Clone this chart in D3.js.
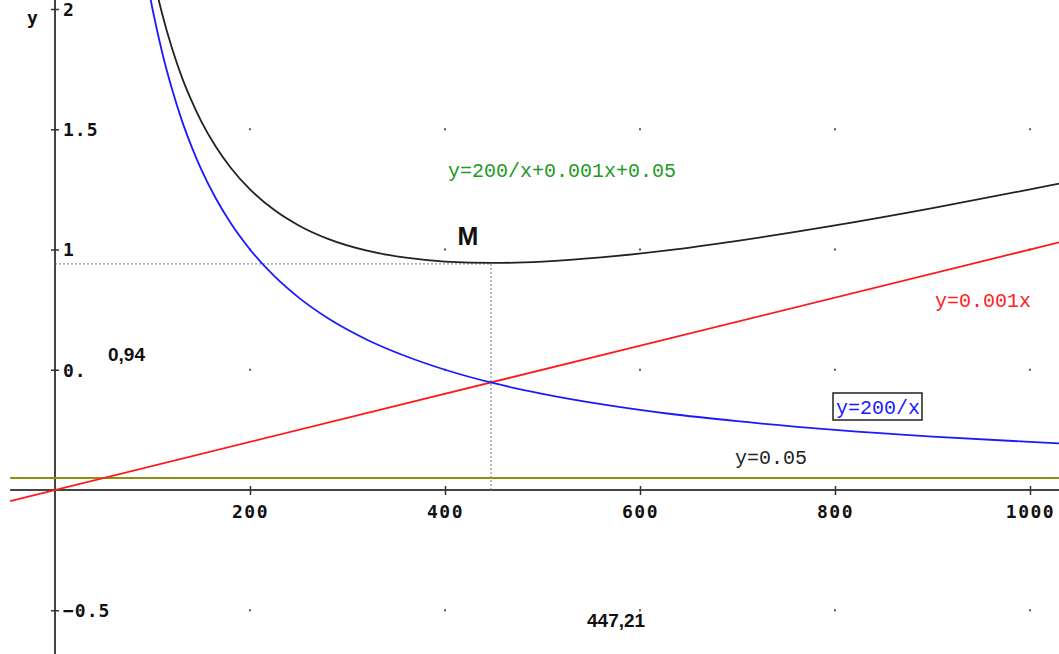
<!DOCTYPE html>
<html>
<head>
<meta charset="utf-8">
<script src="https://cdn.jsdelivr.net/npm/d3@7/dist/d3.min.js"></script>
<style>
  html, body { margin: 0; padding: 0; background: #fff; }
  svg { display: block; }
</style>
</head>
<body>
<svg id="chart" width="1059" height="654"></svg>
<script>
// ---- data ----
const xTicks = [200, 400, 600, 800, 1000];
const yTicks = [2, 1.5, 1, 0.5, -0.5];
const yTickLabels = ["2", "1.5", "1", "0.", "\u22120.5"];
const gridX = [200, 400, 600, 800, 1000];
const gridY = [1.5, 1, 0.5, -0.5];

// y = 200/x
const hypX = [98, 100, 110, 120, 130, 140, 150, 165, 180, 200, 225, 250, 280, 320, 360, 400, 450, 500, 560, 630, 700, 800, 900, 1000, 1030];
const hypY = [2.041, 2.0, 1.818, 1.667, 1.538, 1.429, 1.333, 1.212, 1.111, 1.0, 0.889, 0.8, 0.714, 0.625, 0.556, 0.5, 0.444, 0.4, 0.357, 0.317, 0.286, 0.25, 0.222, 0.2, 0.194];

// y = 200/x + 0.001x + 0.05
const sumX = [106, 110, 120, 130, 140, 150, 165, 180, 200, 225, 250, 280, 320, 360, 400, 450, 500, 560, 630, 700, 800, 900, 1000, 1030];
const sumY = [2.043, 1.978, 1.837, 1.718, 1.619, 1.533, 1.427, 1.341, 1.25, 1.164, 1.1, 1.044, 0.995, 0.966, 0.95, 0.944, 0.95, 0.967, 0.997, 1.036, 1.1, 1.172, 1.25, 1.274];

// y = 0.001x
const linX = [-46, 1030];
const linY = [-0.046, 1.03];

// y = 0.05
const constX = [-46, 1030];
const constY = [0.05, 0.05];

// minimum point M
const mX = 447.21;
const mY = 0.94;
const mXLabel = "447,21";
const mYLabel = "0,94";

// ---- scales ----
const svg = d3.select("#chart");
const x = d3.scaleLinear().domain([0, 1000]).range([55, 1030]);
const y = d3.scaleLinear().domain([0, 2]).range([490, 9]);

const mono = "'DejaVu Sans Mono', monospace";
const monoThin = "'Liberation Mono', 'DejaVu Sans Mono', monospace";
const sans = "'Liberation Sans', Arial, sans-serif";

// grid dots
const dots = [];
gridX.forEach(gx => gridY.forEach(gy => dots.push([gx, gy])));
svg.append("g").selectAll("rect").data(dots).join("rect")
  .attr("x", d => x(d[0]) - 1)
  .attr("y", d => y(d[1]) - 1)
  .attr("width", 2).attr("height", 2)
  .attr("fill", "#555");

// axes lines
svg.append("line")
  .attr("x1", x(-46)).attr("x2", x(1030))
  .attr("y1", y(0)).attr("y2", y(0))
  .attr("stroke", "#444").attr("stroke-width", 2);
svg.append("line")
  .attr("x1", x(0)).attr("x2", x(0))
  .attr("y1", y(2.05)).attr("y2", y(-0.7))
  .attr("stroke", "#444").attr("stroke-width", 2);

// x axis ticks & labels
const xAxis = svg.append("g")
  .attr("transform", `translate(0,${y(0)})`)
  .call(d3.axisBottom(x).tickValues(xTicks).tickSize(5).tickFormat(d3.format("d")));
xAxis.select(".domain").remove();
xAxis.selectAll(".tick line").attr("y1", -4).attr("y2", 5).attr("stroke", "#333").attr("stroke-width", 1.5);
xAxis.selectAll(".tick text")
  .attr("y", 15).attr("dy", "0.71em")
  .attr("fill", "#111")
  .style("font-family", mono).style("font-weight", "bold")
  .style("font-size", "18px").style("letter-spacing", "1.5px");

// y axis ticks & labels
const yAxis = svg.append("g")
  .attr("transform", `translate(${x(0)},0)`)
  .call(d3.axisRight(y).tickValues(yTicks).tickSize(4).tickFormat((d, i) => yTickLabels[i]));
yAxis.select(".domain").remove();
yAxis.selectAll(".tick line").attr("x1", -4).attr("x2", 4).attr("stroke", "#333").attr("stroke-width", 1.5);
yAxis.selectAll(".tick text")
  .attr("x", 8).attr("dy", "0.36em")
  .attr("fill", "#111")
  .style("font-family", mono).style("font-weight", "bold")
  .style("font-size", "18px").style("letter-spacing", "1px");

// axis title
svg.append("text").attr("x", 27).attr("y", 24)
  .attr("fill", "#111")
  .style("font-family", mono).style("font-weight", "bold").style("font-size", "18px")
  .text("y");

// guide lines to M
svg.append("line")
  .attr("x1", x(0)).attr("x2", x(mX))
  .attr("y1", y(mY)).attr("y2", y(mY))
  .attr("stroke", "#777").attr("stroke-width", 1).attr("stroke-dasharray", "2,2");
svg.append("line")
  .attr("x1", x(mX)).attr("x2", x(mX))
  .attr("y1", y(mY)).attr("y2", y(0))
  .attr("stroke", "#777").attr("stroke-width", 1).attr("stroke-dasharray", "2,2");

// curves
const lineGen = d3.line().x(d => x(d[0])).y(d => y(d[1])).curve(d3.curveMonotoneX);
function series(xs, ys) { return xs.map((v, i) => [v, ys[i]]); }

svg.append("path").datum(series(constX, constY))
  .attr("d", lineGen).attr("fill", "none")
  .attr("stroke", "#8f8f12").attr("stroke-width", 2);
svg.append("path").datum(series(linX, linY))
  .attr("d", lineGen).attr("fill", "none")
  .attr("stroke", "#ff1a1a").attr("stroke-width", 1.8);
svg.append("path").datum(series(hypX, hypY))
  .attr("d", lineGen).attr("fill", "none")
  .attr("stroke", "#1a1aff").attr("stroke-width", 1.8);
svg.append("path").datum(series(sumX, sumY))
  .attr("d", lineGen).attr("fill", "none")
  .attr("stroke", "#222").attr("stroke-width", 1.8);

// annotations
function label(tx, ty, txt, color, fam, size, weight, anchor) {
  return svg.append("text").attr("x", tx).attr("y", ty)
    .attr("fill", color).attr("text-anchor", anchor || "start")
    .style("font-family", fam).style("font-size", size + "px")
    .style("font-weight", weight || "normal")
    .text(txt);
}
label(448, 177, "y=200/x+0.001x+0.05", "#229922", monoThin, 20);
label(935, 307, "y=0.001x", "#ff2020", monoThin, 20);
svg.append("rect").attr("x", 833).attr("y", 393).attr("width", 89).attr("height", 27)
  .attr("fill", "none").attr("stroke", "#222").attr("stroke-width", 1.5);
label(836, 414, "y=200/x", "#1a1aff", monoThin, 20);
label(735, 464, "y=0.05", "#222", monoThin, 20);

label(468, 245, "M", "#111", sans, 25, "bold", "middle");
label(108, 361, mYLabel, "#111", sans, 19, "bold");
label(587, 627, mXLabel, "#111", sans, 19, "bold");
</script>
</body>
</html>
